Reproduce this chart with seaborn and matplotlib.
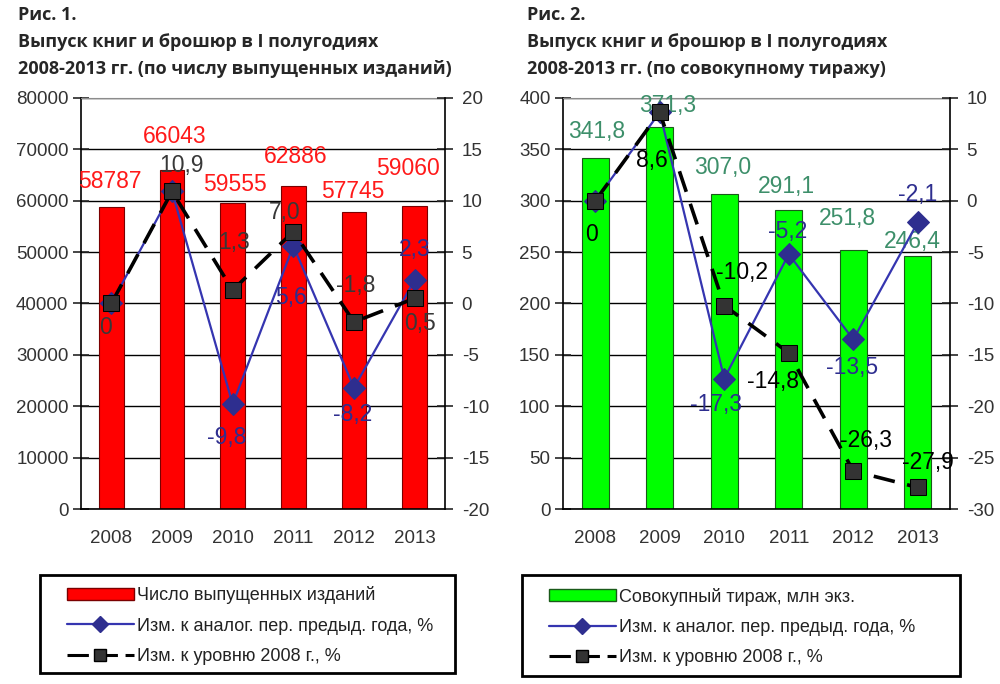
import numpy as np
import pandas as pd
import matplotlib
matplotlib.use("Agg")
import matplotlib.pyplot as plt
from matplotlib.patches import Patch, Rectangle
from matplotlib.lines import Line2D
import seaborn as sns

# --- data ---
years = ["2008", "2009", "2010", "2011", "2012", "2013"]

editions = [58787, 66043, 59555, 62886, 57745, 59060]
ed_prev = [0, 10.9, -9.8, 5.6, -8.2, 2.3]
ed_2008 = [0, 10.9, 1.3, 7.0, -1.8, 0.5]

copies = [341.8, 371.3, 307.0, 291.1, 251.8, 246.4]
cp_prev = [0, 8.6, -17.3, -5.2, -13.5, -2.1]
cp_2008 = [0, 8.6, -10.2, -14.8, -26.3, -27.9]

titles1 = ["Рис. 1.", "Выпуск книг и брошюр в I полугодиях",
           "2008-2013 гг. (по числу выпущенных изданий)"]
titles2 = ["Рис. 2.", "Выпуск книг и брошюр в I полугодиях",
           "2008-2013 гг. (по совокупному тиражу)"]
legend1 = ["Число выпущенных изданий", "Изм. к аналог. пер. предыд. года, %",
           "Изм. к уровню 2008 г., %"]
legend2 = ["Совокупный тираж, млн экз.", "Изм. к аналог. пер. предыд. года, %",
           "Изм. к уровню 2008 г., %"]

# label offsets (points) for each data label, hand placed like in Excel
off_bar1 = [(-1, 18), (2, 24), (2, 13), (2, 21), (-1, 15), (-5, 27)]
off_blk1 = [(-4, -17), (7, 19), (1, 34), (-6, 14), (1, 26), (4, -18)]
off_blu1 = [None, None, (-4, -24), (-2, -37), (-1, -19), (0, 22)]
off_bar2 = [(1, 19), (6, 16), (-1, 19), (-2, 17), (-4, 23), (-4, 10)]
off_blk2 = [(-3, -24), (-6, -35), (13, 24), (-11, -21), (9, 22), (7, 18)]
off_blu2 = [None, None, (-6, -19), (-1, 16), (-1, -20), (0, 20)]

sns.set_style("white")
plt.rcParams["font.family"] = ["Liberation Sans", "DejaVu Sans"]
plt.rcParams["axes.unicode_minus"] = False

BLUE = "#2e2e8f"
DARK = "#333333"


def fmt(v, intfmt=False):
    if intfmt:
        return f"{v:d}"
    if v == 0:
        return "0"
    return f"{v:.1f}".replace(".", ",")


def draw_panel(fig, rect, bars, prev, base, bar_color, bar_edge, bar_lab_color,
               blk_lab_color, ylim_l, ystep_l, ylim_r, ystep_r,
               off_bar, off_blk, off_blu, int_bars, bar_width):
    ax = fig.add_axes(rect)
    df = pd.DataFrame({"year": years, "value": bars})
    sns.barplot(data=df, x="year", y="value", color=bar_color, saturation=1,
                edgecolor=bar_edge, linewidth=0.8, width=bar_width, ax=ax)
    ax.set_xlim(-0.5, len(years) - 0.5)
    ax.set_ylim(*ylim_l)
    ax.set_yticks(np.arange(ylim_l[0], ylim_l[1] + ystep_l / 2, ystep_l))
    ax.set_axisbelow(True)
    ax.yaxis.grid(True, color="black", lw=1)
    ax.set_xlabel("")
    ax.set_ylabel("")
    # category boundaries carry the tick marks, labels sit in the middle
    ax.set_xticks(np.arange(-0.5, len(years), 1.0))
    ax.set_xticklabels([])
    ax.set_xticks(np.arange(len(years)), minor=True)
    ax.set_xticklabels(years, minor=True)
    ax.tick_params(axis="x", which="major", direction="inout", length=11, width=1)
    ax.tick_params(axis="x", which="minor", length=0, pad=15,
                   labelsize=13.5, labelcolor=DARK)
    ax.tick_params(axis="y", direction="inout", length=12, width=1.2,
                   labelsize=13.5, labelcolor=DARK, pad=3)
    for s in ["left", "bottom"]:
        ax.spines[s].set_color("black")
        ax.spines[s].set_linewidth(1.2)
    ax.spines["top"].set_color("#8c8c8c")
    ax.spines["right"].set_visible(False)

    for i, v in enumerate(bars):
        ax.annotate(fmt(v, int_bars), (i, v), xytext=off_bar[i],
                    textcoords="offset points", ha="center", va="center",
                    fontsize=16.5, color=bar_lab_color)

    ax2 = ax.twinx()
    x = np.arange(len(years))
    sns.lineplot(x=x, y=prev, ax=ax2, color="#3535b0", lw=1.6, marker="D",
                 markersize=11, markerfacecolor=BLUE, markeredgecolor=BLUE)
    sns.lineplot(x=x, y=base, ax=ax2, color="black", lw=2.6,
                 linestyle=(0, (6, 3.5)), marker="s", markersize=12,
                 markerfacecolor=DARK, markeredgecolor="black")
    ax2.set_ylim(*ylim_r)
    ax2.set_yticks(np.arange(ylim_r[0], ylim_r[1] + ystep_r / 2, ystep_r))
    ax2.tick_params(axis="y", direction="inout", length=12, width=1.2,
                    labelsize=13.5, labelcolor=DARK, pad=6)
    ax2.spines["right"].set_color("black")
    ax2.spines["right"].set_linewidth(1.2)
    for s in ["left", "top", "bottom"]:
        ax2.spines[s].set_visible(False)
    ax2.set_ylabel("")
    ax2.set_xlim(-0.5, len(years) - 0.5)

    for i, v in enumerate(base):
        ax2.annotate(fmt(v), (i, v), xytext=off_blk[i], textcoords="offset points",
                     ha="center", va="center", fontsize=16.5, color=blk_lab_color)
    for i, v in enumerate(prev):
        if off_blu[i] is None:
            continue
        ax2.annotate(fmt(v), (i, v), xytext=off_blu[i], textcoords="offset points",
                     ha="center", va="center", fontsize=16.5, color=BLUE)
    return ax, ax2


def draw_legend(fig, box, labels, bar_color, bar_edge):
    x0, y0, w, h = box
    fig.add_artist(Rectangle((x0, y0), w, h, transform=fig.transFigure,
                             fill=False, edgecolor="black", lw=2))
    handles = [
        Patch(facecolor=bar_color, edgecolor=bar_edge, lw=1),
        Line2D([], [], color="#3535b0", lw=1.6, marker="D", markersize=8,
               markerfacecolor=BLUE, markeredgecolor=BLUE),
        Line2D([], [], color="black", lw=2.2, linestyle=(0, (7, 2.5)), marker="s",
               markersize=8, markerfacecolor=DARK, markeredgecolor="black"),
    ]
    fig.legend(handles, labels, loc="center left",
               bbox_to_anchor=(x0 + 0.027, y0 + h / 2 - 0.002), frameon=False,
               fontsize=13, handlelength=3.7, handleheight=0.65,
               handletextpad=0.15, labelspacing=0.74, borderpad=0,
               borderaxespad=0, labelcolor="#222222")


fig = plt.figure(figsize=(10, 6.84), dpi=100)

draw_panel(fig, [0.081, 0.2558, 0.364, 0.601], editions, ed_prev, ed_2008,
           "#ff0000", "#7a0000", "#ff1a1a", "#383838",
           (0, 80000), 10000, (-20, 20), 5,
           off_bar1, off_blk1, off_blu1, True, 0.41)
draw_panel(fig, [0.563, 0.2558, 0.387, 0.601], copies, cp_prev, cp_2008,
           "#00ff00", "#1a5a1a", "#3d8f6a", "black",
           (0, 400), 50, (-30, 10), 5,
           off_bar2, off_blk2, off_blu2, False, 0.42)

for k, t in enumerate(titles1):
    fig.text(0.018, 1 - (15 + 27 * k) / 684, t, fontsize=13, fontweight="bold",
             family=["Open Sans", "DejaVu Sans"], va="center", ha="left")
for k, t in enumerate(titles2):
    fig.text(0.527, 1 - (15 + 27 * k) / 684, t, fontsize=13, fontweight="bold",
             family=["Open Sans", "DejaVu Sans"], va="center", ha="left")

draw_legend(fig, (0.040, 0.016, 0.415, 0.143), legend1, "#ff0000", "#7a0000")
draw_legend(fig, (0.522, 0.012, 0.438, 0.147), legend2, "#00ff00", "#1a5a1a")

fig.savefig("out.png", dpi=100)
